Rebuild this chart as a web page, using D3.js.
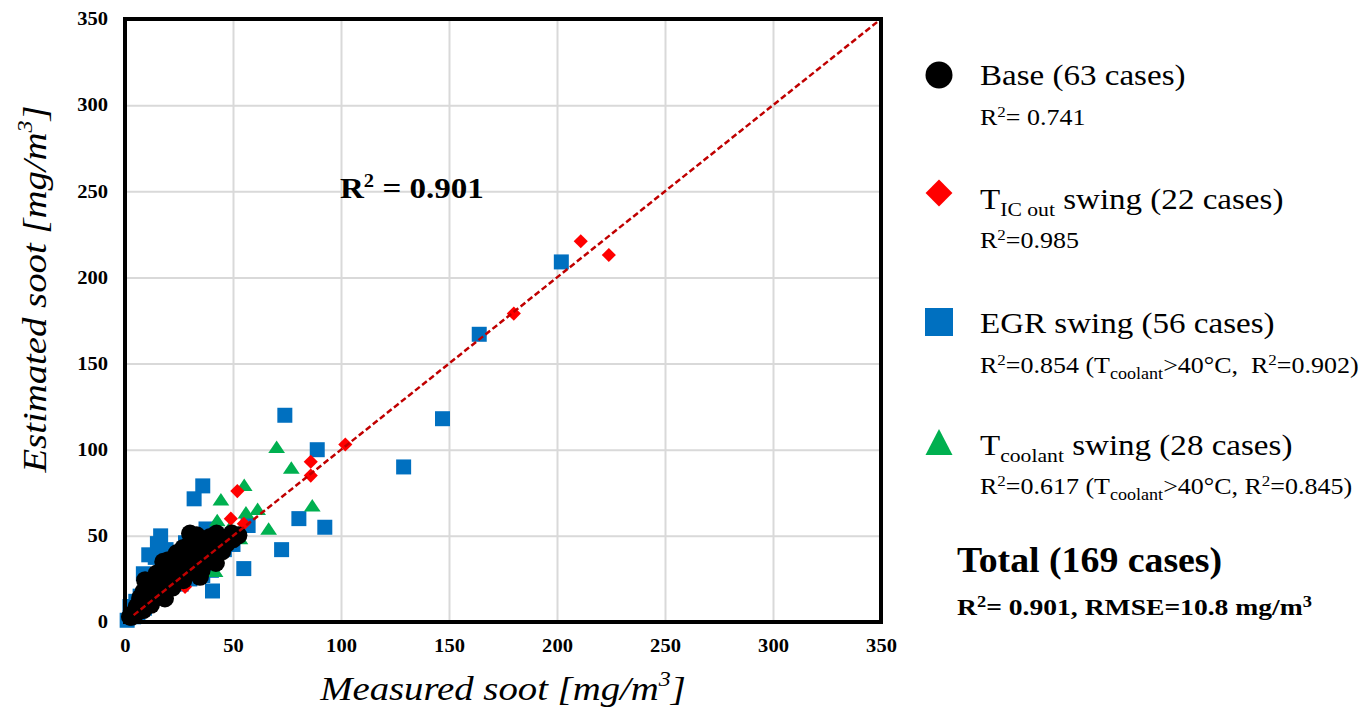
<!DOCTYPE html>
<html>
<head>
<meta charset="utf-8">
<script src="https://cdn.jsdelivr.net/npm/d3@7"></script>
<style>
  body { margin: 0; background: #fff; }
  text { font-family: "Liberation Serif", "Times New Roman", serif; }
</style>
</head>
<body>
<svg width="1364" height="714"></svg>
<script>
// measured vs estimated soot, mg/m3, [measured, estimated]
var baseCases = [
  [2.3,3.1],[3.9,5],[5.4,8.9],[6.9,11.7],[8.5,6.9],[8.5,17.5],[9.3,24.3],[11.6,16.6],[13.1,24.3],[14.7,28.2],
  [15.4,20.4],[18.5,13.7],[17.7,34.9],[20,35.9],[20.8,30.1],[23.9,34.9],[23.1,28.2],[25.5,30.1],[27,24.3],[28.5,39.7],
  [30.1,45.5],[30.9,41.7],[31.6,32],[33.2,50.3],[33.9,37.8],[34.7,26.2],[35.5,30.1],[36.3,43.6],[37.8,37.8],[39.4,49.4],
  [42.4,51.3],[42.1,34.3],[47.1,45.5],[49.4,51.3],[52.5,50.3],[30.1,51.3],[4.5,4],[6,6],[10,12],[12,10],
  [16,18],[18,22],[22,20],[26,26],[29,35],[32,29],[35,47],[38,42],[40,36],[44,48],
  [45,41],[50,48],[27,43],[24,40],[19,27],[14,14],[11,21],[7,14],[3,3],[41,47],
  [36,33],[22,32],[28,30]
];
var ticCases = [
  [211,221],[224,213],[180,179],[102,103],[86,93],[86,85],[52,76],[49,60],[55,57],[38.6,46.5],
  [27.8,20.4],[30,32],[35,38],[20,22],[25,28],[40,42],[45,47],[15,15],[10,10],[33,30],
  [38,35],[42,40]
];
var egrCases = [
  [202,209],[164,167],[147,118],[129,90],[89,100],[74,120],[80.5,60],[92.5,55],[72.5,42],[55,31],
  [57,56],[40.5,18],[36,79],[32,71.5],[16.5,50],[19,42],[14,37.5],[28,46],[37.5,54],[15,45.5],
  [11,39],[32.5,35],[1,1],[2.3,9],[8.5,28],[4,3],[3,6],[5,12],[7,15],[10,20],
  [12,18],[18,25],[20,30],[22,24],[24,36],[26,28],[28,38],[30,25],[33,42],[35,33],
  [38,40],[40,30],[42,36],[44,44],[46,42],[48,48],[50,45],[18,32],[22,40],[26,22],
  [30,44],[34,46],[36,27],[6,4],[9,8],[13,14]
];
var coolantCases = [
  [70.2,100.5],[77,88.5],[55.2,78.5],[44.4,70],[86.7,66.5],[61.4,64.5],[56,62.5],[66.5,53],[42.7,58],[48.6,54],
  [42.4,52.3],[53.2,47.5],[44,45],[41.7,28.5],[39.4,45.5],[30,38],[25,30],[35,40],[20,25],[15,18],
  [10,12],[38,42],[28,33],[33,36],[22,28],[45,48],[36,44],[50,50]
];
var fitLine = [[4,4],[350,350]];
var tickValues = [0,50,100,150,200,250,300,350];
var seriesR2 = ["= 0.741", "=0.985", "=0.854", "=0.617"];

var svg = d3.select("svg");
var pl = 125, pr = 881, pt = 19, pb = 622;
var sx = 1.14; // text is drawn a little wide

var x = d3.scaleLinear().domain([0,350]).range([pl,pr]);
var y = d3.scaleLinear().domain([0,350]).range([pb,pt]);

// text placed at (px,py), stretched horizontally
function label(parent, px, py, size, k) {
  return parent.append("text")
    .attr("transform", "translate(" + px + "," + py + ") scale(" + (k || sx) + ",1)")
    .attr("font-size", size)
    .attr("xml:space", "preserve");
}

// grid
svg.append("g")
  .attr("transform", "translate(0," + pb + ")")
  .call(d3.axisBottom(x).tickValues(tickValues).tickSize(-(pb - pt)).tickFormat(""))
  .call(function(g) { g.select(".domain").remove(); })
  .selectAll("line").attr("stroke", "#d9d9d9").attr("stroke-width", 2);
svg.append("g")
  .attr("transform", "translate(" + pl + ",0)")
  .call(d3.axisLeft(y).tickValues(tickValues).tickSize(-(pr - pl)).tickFormat(""))
  .call(function(g) { g.select(".domain").remove(); })
  .selectAll("line").attr("stroke", "#d9d9d9").attr("stroke-width", 2);

// tick labels
var xa = svg.append("g")
  .attr("transform", "translate(0," + pb + ")")
  .call(d3.axisBottom(x).tickValues(tickValues).tickSize(0));
xa.select(".domain").remove();
xa.selectAll("text").attr("y", 17).attr("font-size", 18).attr("font-weight", "bold")
  .attr("font-family", "Liberation Serif").attr("fill", "#000")
  .attr("transform", "scale(" + sx + ",1)");

var ya = svg.append("g")
  .attr("transform", "translate(" + pl + ",0)")
  .call(d3.axisLeft(y).tickValues(tickValues).tickSize(0));
ya.select(".domain").remove();
ya.selectAll("text").attr("x", -17 / sx).attr("font-size", 18).attr("font-weight", "bold")
  .attr("font-family", "Liberation Serif").attr("fill", "#000")
  .attr("transform", "scale(" + sx + ",1)");

// markers
var blue = "#0070c0", red = "#ff0000", green = "#00b050";
var sq = d3.symbol().type(d3.symbolSquare).size(15 * 15);
var tri = d3.symbol().type(d3.symbolTriangle).size(100);
var dia = d3.symbol().type(d3.symbolSquare).size(10 * 10);

svg.append("g").selectAll("path").data(egrCases).join("path")
  .attr("d", sq)
  .attr("transform", function(d) { return "translate(" + x(d[0]) + "," + y(d[1]) + ")"; })
  .attr("fill", blue);

svg.append("g").selectAll("path").data(coolantCases).join("path")
  .attr("d", tri)
  .attr("transform", function(d) { return "translate(" + x(d[0]) + "," + y(d[1]) + ") scale(1.1,0.95)"; })
  .attr("fill", green);

svg.append("g").selectAll("path").data(ticCases).join("path")
  .attr("d", dia)
  .attr("transform", function(d) { return "translate(" + x(d[0]) + "," + y(d[1]) + ") rotate(45)"; })
  .attr("fill", red);

svg.append("g").selectAll("circle").data(baseCases).join("circle")
  .attr("cx", function(d) { return x(d[0]); })
  .attr("cy", function(d) { return y(d[1]); })
  .attr("r", 9)
  .attr("fill", "#000");

// 1:1 fit line
svg.append("path")
  .datum(fitLine)
  .attr("d", d3.line().x(function(d) { return x(d[0]); }).y(function(d) { return y(d[1]); }))
  .attr("fill", "none")
  .attr("stroke", "#c00000")
  .attr("stroke-width", 2.5)
  .attr("stroke-dasharray", "6,3");

// frame
svg.append("rect")
  .attr("x", pl).attr("y", pt)
  .attr("width", pr - pl).attr("height", pb - pt)
  .attr("fill", "none").attr("stroke", "#000").attr("stroke-width", 4);

// R2 annotation
var ann = label(svg, 340, 198, 29).attr("font-weight", "bold");
ann.append("tspan").text("R");
ann.append("tspan").attr("font-size", 18).attr("dy", -11).text("2");
ann.append("tspan").attr("dy", 11).text(" = 0.901");

// axis titles
var xt = label(svg, (pl + pr) / 2, 700, 34).attr("text-anchor", "middle").attr("font-style", "italic");
xt.append("tspan").text("Measured soot [mg/m");
xt.append("tspan").attr("font-size", 21).attr("dy", -14).text("3");
xt.append("tspan").attr("dy", 14).text("]");

var yt = svg.append("text")
  .attr("transform", "translate(46,289) rotate(-90) scale(" + sx + ",1)")
  .attr("text-anchor", "middle").attr("font-size", 34).attr("font-style", "italic");
yt.append("tspan").text("Estimated soot [mg/m");
yt.append("tspan").attr("font-size", 21).attr("dy", -14).text("3");
yt.append("tspan").attr("dy", 14).text("]");

// legend
var lg = svg.append("g");
var mx = 939, tx = 980;

lg.append("circle").attr("cx", mx).attr("cy", 75).attr("r", 13.5).attr("fill", "#000");
lg.append("path").attr("d", d3.symbol().type(d3.symbolSquare).size(19 * 19))
  .attr("transform", "translate(" + mx + ",193) rotate(45)").attr("fill", red);
lg.append("rect").attr("x", mx - 14).attr("y", 308).attr("width", 28).attr("height", 28).attr("fill", blue);
lg.append("path").attr("d", "M" + (mx - 13.5) + ",455 L" + (mx + 13.5) + ",455 L" + mx + ",429 Z").attr("fill", green);

function r2Line(yy, val) {
  var t = label(lg, tx, yy, 23, 1.13);
  t.append("tspan").text("R");
  t.append("tspan").attr("font-size", 15).attr("dy", -8).text("2");
  t.append("tspan").attr("dy", 8).text(val);
  return t;
}

label(lg, tx, 85, 29).text("Base (63 cases)");
r2Line(125, seriesR2[0]);

var t2 = label(lg, tx, 209, 29);
t2.append("tspan").text("T");
t2.append("tspan").attr("font-size", 19).attr("dy", 7).text("IC out");
t2.append("tspan").attr("dy", -7).text(" swing (22 cases)");
r2Line(248, seriesR2[1]);

label(lg, tx, 333, 29).text("EGR swing (56 cases)");
var t3 = r2Line(373, seriesR2[2]);
t3.append("tspan").text(" (T");
t3.append("tspan").attr("font-size", 16).attr("dy", 6).text("coolant");
t3.append("tspan").attr("dy", -6).text(">40°C,  R");
t3.append("tspan").attr("font-size", 15).attr("dy", -8).text("2");
t3.append("tspan").attr("dy", 8).text("=0.902)");

var t4 = label(lg, tx, 455, 29);
t4.append("tspan").text("T");
t4.append("tspan").attr("font-size", 19).attr("dy", 7).text("coolant");
t4.append("tspan").attr("dy", -7).text(" swing (28 cases)");
var t5 = r2Line(494, seriesR2[3]);
t5.append("tspan").text(" (T");
t5.append("tspan").attr("font-size", 16).attr("dy", 6).text("coolant");
t5.append("tspan").attr("dy", -6).text(">40°C, R");
t5.append("tspan").attr("font-size", 15).attr("dy", -8).text("2");
t5.append("tspan").attr("dy", 8).text("=0.845)");

label(lg, 957, 572, 35, 1.08).attr("font-weight", "bold").text("Total (169 cases)");
var t6 = label(lg, 957, 615, 24, 1.15).attr("font-weight", "bold");
t6.append("tspan").text("R");
t6.append("tspan").attr("font-size", 16).attr("dy", -8).text("2");
t6.append("tspan").attr("dy", 8).text("= 0.901, RMSE=10.8 mg/m");
t6.append("tspan").attr("font-size", 16).attr("dy", -8).text("3");
</script>
</body>
</html>
